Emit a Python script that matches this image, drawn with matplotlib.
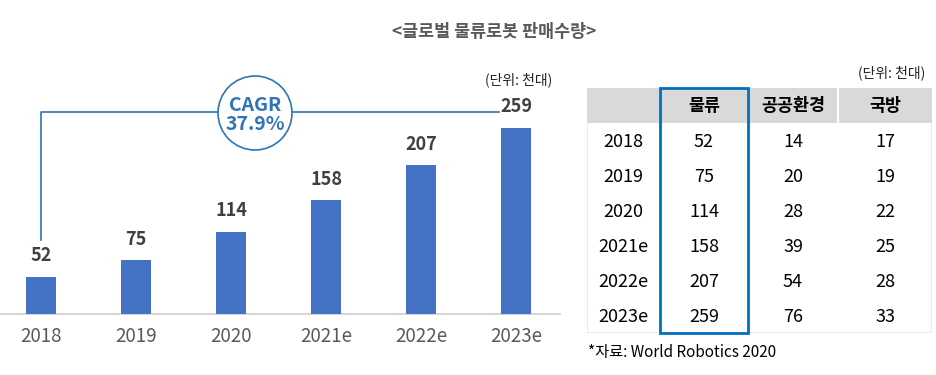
import numpy as np
import matplotlib.pyplot as plt
from matplotlib.patches import Circle, Rectangle

plt.rcParams['font.family'] = ['Noto Sans CJK KR', 'DejaVu Sans']

# 데이터
years = ['2018', '2019', '2020', '2021e', '2022e', '2023e']
logistics = [52, 75, 114, 158, 207, 259]
public_env = [14, 20, 28, 39, 54, 76]
defense = [17, 19, 22, 25, 28, 33]
headers = ['', '물류', '공공환경', '국방']
cagr_text = 'CAGR\n37.9%'

W, H = 936, 375
fig = plt.figure(figsize=(W / 100, H / 100), dpi=100)

# 막대 그래프
ax = fig.add_axes([0, 1 - 314 / H, 560 / W, (314 - 60) / H])
x = np.arange(len(years))
ax.bar(x, logistics, width=0.32, color='#4472C4', zorder=3)
ax.set_xlim(-0.43, 5.46)
ax.set_ylim(0, 353)
for xi, v in zip(x, logistics):
    ax.text(xi, v + 16, str(v), ha='center', va='bottom', fontsize=13,
            fontweight='bold', color='#404040')
ax.set_xticks(x)
ax.set_xticklabels(years, fontsize=13.5, color='#595959')
ax.tick_params(axis='x', length=0, pad=9)
ax.set_yticks([])
for s in ['top', 'right', 'left']:
    ax.spines[s].set_visible(False)
ax.spines['bottom'].set_color('#D0D0D0')
ax.spines['bottom'].set_linewidth(1.2)

# CAGR 연결선
blue = '#2E75B6'
y_line = 281
ax.plot([x[0], x[0], x[-1] - 0.18], [logistics[0] + 51, y_line, y_line],
        color=blue, lw=1.2, zorder=2)
circ_ax = fig.add_axes([0, 0, 1, 1], zorder=5)
circ_ax.set_xlim(0, W)
circ_ax.set_ylim(H, 0)
circ_ax.axis('off')
circ_ax.add_patch(Circle((255, 113), 37, facecolor='white', edgecolor=blue, lw=1.2))
circ_ax.text(255, 115, cagr_text, ha='center', va='center', fontsize=14,
             fontweight='bold', color=blue, linespacing=1.05)

fig.text(519 / W, 1 - 80 / H, '(단위: 천대)', ha='center', va='center',
         fontsize=10, color='#222222')
fig.text(494 / W, 1 - 32 / H, '<글로벌 물류로봇 판매수량>', ha='center', va='center',
         fontsize=12.5, fontweight='bold', color='#595959')

# 표
col_w = [73, 88, 90, 94]
edges = np.concatenate([[0], np.cumsum(col_w)])
tx0, ty0, ty1 = 587, 88, 333
tab = fig.add_axes([tx0 / W, 1 - ty1 / H, edges[-1] / W, (ty1 - ty0) / H])
tab.set_xlim(0, edges[-1])
tab.set_ylim(7, 0)
tab.axis('off')
tab.add_patch(Rectangle((0, 0), edges[-1], 1, facecolor='#D9D9D9', edgecolor='none'))
for e in edges[1:-1]:
    tab.plot([e, e], [0, 1], color='white', lw=1.5)
tab.plot([0, 0, edges[-1], edges[-1]], [1, 7, 7, 1], color='#E6E6E6', lw=1.2)
for j, h in enumerate(headers):
    tab.text((edges[j] + edges[j + 1]) / 2, 0.52, h, ha='center', va='center',
             fontsize=12.5, fontweight='bold', color='black')
rows = list(zip(years, logistics, public_env, defense))
for i, row in enumerate(rows):
    for j, val in enumerate(row):
        tab.text((edges[j] + edges[j + 1]) / 2, i + 1.55, str(val), ha='center',
                 va='center', fontsize=13, color='black')
tab.add_patch(Rectangle((edges[1], 0), col_w[1], 7, facecolor='none',
                        edgecolor='#0070C0', lw=2, zorder=5, clip_on=False))

fig.text(925 / W, 1 - 73 / H, '(단위: 천대)', ha='right', va='center',
         fontsize=10, color='#222222')
fig.text(588 / W, 1 - 352 / H, '*자료: World Robotics 2020', ha='left', va='center',
         fontsize=11, color='black')

fig.savefig('out.png', dpi=100)
